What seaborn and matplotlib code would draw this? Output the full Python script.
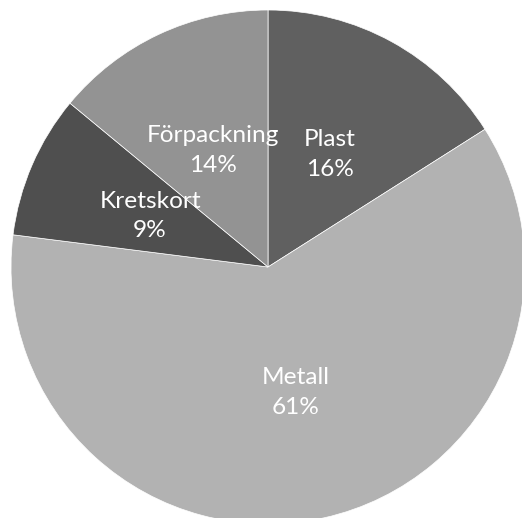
import matplotlib
matplotlib.use("Agg")
import matplotlib.pyplot as plt
import seaborn as sns

# --- Data --------------------------------------------------------------------
categories = ["Plast", "Metall", "Kretskort", "Förpackning"]
shares = [16, 61, 9, 14]
colors = ["#606060", "#B2B2B2", "#4F4F4F", "#939393"]

# --- Plot --------------------------------------------------------------------
sns.set_theme(style="white")
plt.rcParams["font.family"] = ["Lato", "DejaVu Sans"]

fig = plt.figure(figsize=(5.22, 5.18), dpi=100)
# pie centre at (268, 267) px from top-left, radius ~257 px
ax = fig.add_axes([11 / 522, -6 / 518, 514 / 522, 514 / 518])

labels_iter = iter(categories)


def fmt(pct):
    return f"{next(labels_iter)}\n{pct:.0f}%"


wedges, texts, autotexts = ax.pie(
    shares,
    colors=colors,
    startangle=90,
    counterclock=False,
    autopct=fmt,
    pctdistance=0.5,
    wedgeprops=dict(edgecolor="white", linewidth=0.5),
    textprops=dict(color="white", fontsize=17.6),
)
for t in autotexts:
    t.set_linespacing(1.5)

ax.set_xlim(-1, 1)
ax.set_ylim(-1, 1)
ax.set_aspect("equal")
ax.axis("off")

fig.savefig("out.png", dpi=100, facecolor="white")
plt.close(fig)
